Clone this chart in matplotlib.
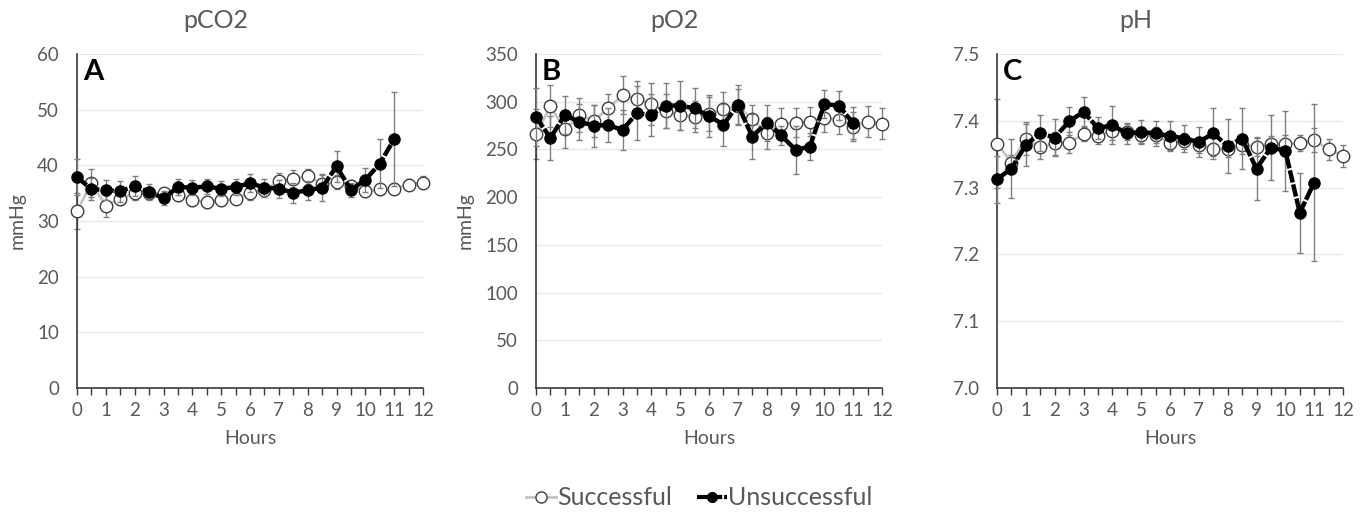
import matplotlib
matplotlib.use("Agg")
import matplotlib.pyplot as plt
from matplotlib.lines import Line2D
import numpy as np

plt.rcParams['font.family'] = ['Lato', 'DejaVu Sans']

hours = [0, 0.5, 1, 1.5, 2, 2.5, 3, 3.5, 4, 4.5, 5, 5.5, 6, 6.5, 7, 7.5, 8, 8.5, 9, 9.5, 10, 10.5, 11, 11.5, 12]
hours_unsucc = hours[:23]

# pCO2 (mmHg)
pco2_succ = [31.8, 36.8, 32.7, 34.0, 35.0, 35.0, 35.0, 34.6, 33.7, 33.4, 33.7, 34.0, 35.0, 35.6, 37.1, 37.6, 38.0,
             36.7, 37.0, 36.3, 35.3, 35.7, 35.8, 36.5, 36.9]
pco2_succ_err = [3.3, 2.5, 1.9, 1.2, 1.2, 1.0, 1.0, 1.0, 1.0, 1.0, 1.0, 1.0, 1.3, 1.2, 1.5, 1.6, 1.4,
                 1.5, 1.2, 1.0, 1.0, 1.0, 1.0, 1.0, 1.2]
pco2_unsucc = [37.9, 35.7, 35.6, 35.3, 36.3, 35.2, 34.1, 36.1, 36.0, 36.2, 35.8, 36.1, 36.8, 36.0, 35.8, 35.1, 35.5,
               36.0, 39.8, 35.6, 37.4, 40.3, 44.7]
pco2_unsucc_err = [3.2, 2.0, 1.8, 1.8, 1.8, 1.4, 1.2, 1.4, 1.4, 1.4, 1.3, 1.4, 1.6, 1.5, 1.6, 1.8, 1.7,
                   2.4, 2.8, 1.2, 2.2, 4.4, 8.4]

# pO2 (mmHg)
po2_succ = [266, 295, 271, 286, 280, 293, 307, 303, 297.5, 290.5, 286, 284.5, 287, 292, 295, 282, 267,
            277, 278, 279, 283, 281, 274, 279, 277]
po2_succ_err = [26, 22, 20, 18, 17, 15, 19.6, 19, 22, 18, 16, 16, 18, 18, 18, 15, 17,
                16, 15, 15, 15, 15, 15, 16, 16]
po2_unsucc = [284, 262, 286, 279, 275, 275.5, 270.5, 288, 286, 296, 296, 293, 285, 276, 296.5, 263.5, 278,
              265, 249.5, 253, 297.5, 296, 277.5]
po2_unsucc_err = [30, 23, 20, 19, 22, 18, 21, 28, 22, 24, 26, 21, 22, 22, 21, 23.5, 19,
                  10, 25.5, 14, 15, 15, 17]

# pH
ph_succ = [7.366, 7.3375, 7.3735, 7.3605, 7.3665, 7.3675, 7.380, 7.3775, 7.385, 7.3835, 7.3785, 7.3785, 7.3665,
           7.370, 7.364, 7.3575, 7.3585, 7.364, 7.361, 7.365, 7.366, 7.3665, 7.371, 7.3575, 7.3475]
ph_succ_err = [0.067, 0.012, 0.025, 0.017, 0.017, 0.015, 0.010, 0.012, 0.014, 0.012, 0.012, 0.012, 0.010,
               0.012, 0.012, 0.010, 0.012, 0.014, 0.014, 0.012, 0.012, 0.012, 0.018, 0.016, 0.017]
ph_unsucc = [7.3125, 7.3285, 7.364, 7.3815, 7.375, 7.399, 7.4135, 7.389, 7.3935, 7.381, 7.3835, 7.381, 7.3775,
             7.3735, 7.3685, 7.381, 7.3625, 7.3735, 7.3285, 7.360, 7.355, 7.2625, 7.3075]
ph_unsucc_err = [0.035, 0.044, 0.031, 0.027, 0.027, 0.021, 0.022, 0.016, 0.028, 0.015, 0.018, 0.018, 0.022,
                 0.020, 0.022, 0.038, 0.040, 0.045, 0.047, 0.048, 0.060, 0.060, 0.118]

panels = [
    dict(title="pCO2", letter="A", ylim=(0, 60), yticks=[0, 10, 20, 30, 40, 50, 60], yfmt="{:.0f}", ylabel="mmHg",
         s=pco2_succ, se=pco2_succ_err, u=pco2_unsucc, ue=pco2_unsucc_err),
    dict(title="pO2", letter="B", ylim=(0, 350), yticks=[0, 50, 100, 150, 200, 250, 300, 350], yfmt="{:.0f}",
         ylabel="mmHg", s=po2_succ, se=po2_succ_err, u=po2_unsucc, ue=po2_unsucc_err),
    dict(title="pH", letter="C", ylim=(7.0, 7.5), yticks=[7.0, 7.1, 7.2, 7.3, 7.4, 7.5], yfmt="{:.1f}", ylabel=None,
         s=ph_succ, se=ph_succ_err, u=ph_unsucc, ue=ph_unsucc_err),
]

W, H = 1371, 516
fig = plt.figure(figsize=(W / 100, H / 100), dpi=100)
lefts = [77, 536, 997]
right_w = 346
top_px, bot_px = 54, 388

TXT = '#595959'
GRID = '#e8e8e8'
ERR = '#7f7f7f'
dash = (0, (2.8, 0.45))

for left, p in zip(lefts, panels):
    ax = fig.add_axes([left / W, 1 - bot_px / H, right_w / W, (bot_px - top_px) / H])
    ax.set_xlim(0, 12)
    ax.set_ylim(*p['ylim'])
    ax.set_yticks(p['yticks'])
    ax.set_yticklabels([p['yfmt'].format(v) for v in p['yticks']])
    ax.set_xticks(np.arange(0, 12.01, 0.5))
    ax.set_xticklabels([str(int(h)) if float(h).is_integer() else '' for h in np.arange(0, 12.01, 0.5)])
    ax.grid(axis='y', color=GRID, lw=1)
    ax.set_axisbelow(True)
    for sp in ['top', 'right']:
        ax.spines[sp].set_visible(False)
    for sp in ['left', 'bottom']:
        ax.spines[sp].set_color('#3a3a3a')
        ax.spines[sp].set_linewidth(1.2)
    ax.tick_params(axis='x', direction='out', length=5, width=1, color='#3a3a3a', labelcolor=TXT,
                   labelsize=13.5, pad=5)
    ax.tick_params(axis='y', length=0, labelcolor=TXT, labelsize=13.5, pad=13)
    ax.set_xlabel("Hours", color=TXT, fontsize=14, labelpad=8)
    if p['ylabel']:
        ax.set_ylabel(p['ylabel'], color=TXT, fontsize=14, labelpad=8)
    ax.text(0.4, 1.065, p['title'], transform=ax.transAxes, ha='center', va='bottom', color=TXT, fontsize=18)
    ax.text(0.017, 0.985, p['letter'], transform=ax.transAxes, ha='left', va='top', color='black',
            fontsize=21, fontweight='bold')

    # Successful series
    ax.errorbar(hours, p['s'], yerr=p['se'], fmt='none', ecolor=ERR, elinewidth=1, capsize=2, capthick=1,
                zorder=2, clip_on=False)
    ax.plot(hours, p['s'], color='#c4c4c4', lw=2.0, zorder=3, clip_on=False)
    ax.plot(hours, p['s'], ls='none', marker='o', ms=9, mfc='white', mec='#3f3f3f', mew=1.0, zorder=4,
            clip_on=False)
    # Unsuccessful series
    ax.errorbar(hours_unsucc, p['u'], yerr=p['ue'], fmt='none', ecolor=ERR, elinewidth=1, capsize=2, capthick=1,
                zorder=5, clip_on=False)
    ax.plot(hours_unsucc, p['u'], color='black', lw=3.2, ls=dash, zorder=6, clip_on=False)
    ax.plot(hours_unsucc, p['u'], ls='none', marker='o', ms=8, mfc='black', mec='black', zorder=7, clip_on=False)

handles = [
    Line2D([], [], color='#c4c4c4', lw=2, marker='o', ms=8, mfc='white', mec='#3f3f3f'),
    Line2D([], [], color='black', lw=3, ls=dash, marker='o', ms=7, mfc='black', mec='black'),
]
fig.legend(handles, ['Successful', 'Unsuccessful'], loc='center', bbox_to_anchor=(0.51, 0.035), ncol=2,
           frameon=False, fontsize=18, handlelength=1.2, handletextpad=0.05, columnspacing=1.0,
           labelcolor=TXT)

fig.savefig("out.png", dpi=100, facecolor='white')
